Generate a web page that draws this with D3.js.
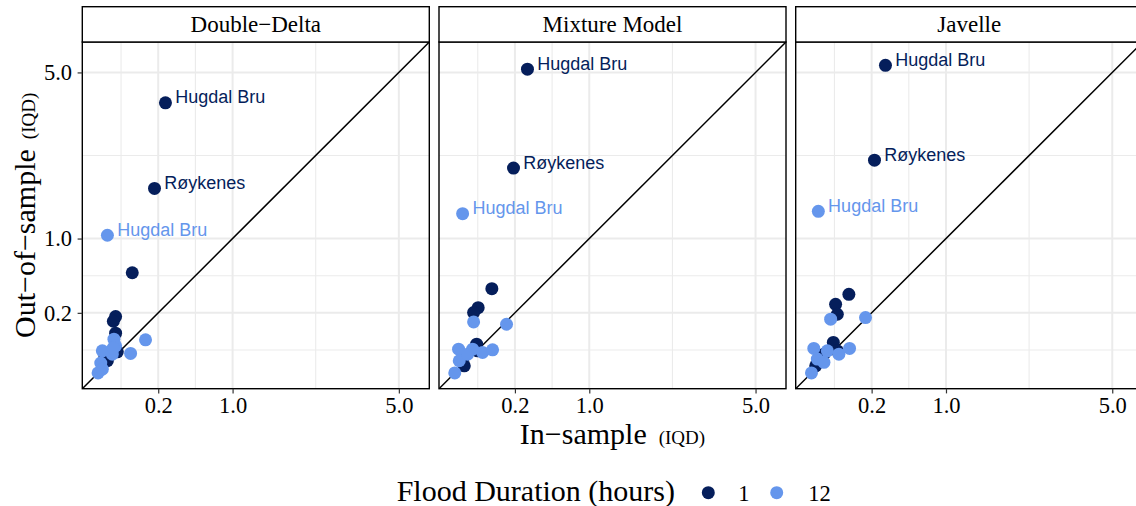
<!DOCTYPE html>
<html>
<head>
<meta charset="utf-8">
<script src="https://cdn.jsdelivr.net/npm/d3@7"></script>
<style>
  html, body { margin: 0; padding: 0; background: #fff; }
  svg { display: block; }
</style>
</head>
<body>
<svg id="chart" width="1136" height="506"></svg>
<script>
// Facets and legend categories
const methods = ["Double−Delta", "Mixture Model", "Javelle"];
const durations = ["1", "12"];
const durationColors = ["#051E5B", "#6596EC"];
const tickValues = [0.2, 1.0, 5.0];
const tickLabels = ["0.2", "1.0", "5.0"];
const axisLimits = [0, 5.5];

// Double−Delta, 1 hour
const ddIn1  = [0.251, 0.176, 0.0646, 0.017, 0.0129, 0.017, 0.0024, 0.0205, 0.0048];
const ddOut1 = [4.04, 1.885, 0.556, 0.176, 0.148, 0.0875, 0.0117, 0.0247, 0.0082];
const ddLab1 = ["Hugdal Bru", "Røykenes", "", "", "", "", "", "", ""];
// Double−Delta, 12 hours
const ddIn12  = [0.0048, 0.1245, 0.0584, 0.001, 0.0139, 0.017, 0.0004, 0.0, 0.001, 0.0112, 0.0125];
const ddOut12 = [1.05, 0.0606, 0.0211, 0.0271, 0.0632, 0.0407, 0.0054, 0.0, 0.0008, 0.0196, 0.0345];
const ddLab12 = ["Hugdal Bru", "", "", "", "", "", "", "", "", "", ""];

// Mixture Model, 1 hour
const mmIn1  = [0.292, 0.1906, 0.076, 0.0303, 0.0196, 0.0264, 0.005, 0.005, 0.0288];
const mmOut1 = [5.11, 2.323, 0.393, 0.236, 0.2018, 0.0459, 0.0163, 0.0028, 0.0271];
const mmLab1 = ["Hugdal Bru", "Røykenes", "", "", "", "", "", "", ""];
// Mixture Model, 12 hours
const mmIn12  = [0.0034, 0.0196, 0.148, 0.0008, 0.0176, 0.0428, 0.0789, 0.0011, 0.0, 0.0091];
const mmOut12 = [1.405, 0.144, 0.1314, 0.0314, 0.0314, 0.0233, 0.0296, 0.0082, 0.0, 0.0196];
const mmLab12 = ["Hugdal Bru", "", "", "", "", "", "", "", "", ""];

// Javelle, 1 hour
const jvIn1  = [0.3025, 0.2195, 0.0773, 0.0322, 0.0369, 0.0264, 0.0086, 0.001, 0.0369];
const jvOut1 = [5.24, 2.507, 0.342, 0.261, 0.1906, 0.0515, 0.0196, 0.0028, 0.0271];
const jvLab1 = ["Hugdal Bru", "Røykenes", "", "", "", "", "", "", ""];
// Javelle, 12 hours
const jvIn12  = [0.0026, 0.0203, 0.1614, 0.0003, 0.0139, 0.0416, 0.0802, 0.0019, 0.0, 0.0086];
const jvOut12 = [1.446, 0.16, 0.170, 0.0333, 0.0271, 0.0196, 0.0333, 0.0106, 0.0, 0.0062];
const jvLab12 = ["Hugdal Bru", "", "", "", "", "", "", "", "", ""];

const panelSeries = [
  [[ddIn1, ddOut1, ddLab1], [ddIn12, ddOut12, ddLab12]],
  [[mmIn1, mmOut1, mmLab1], [mmIn12, mmOut12, mmLab12]],
  [[jvIn1, jvOut1, jvLab1], [jvIn12, jvOut12, jvLab12]]
];

// Layout
const serif = "'Liberation Serif', 'Times New Roman', serif";
const sans = "'Liberation Sans', Arial, sans-serif";
const panelX0 = 82.3, panelStep = 356.7, panelW = 347;
const panelTop = 42, panelH = 346.7, stripTop = 6.7;
const gridColor = "#EBEBEB";

const svg = d3.select("#chart");
svg.append("rect").attr("width", 1136).attr("height", 506).attr("fill", "#fff");

// sqrt scale with 5% expansion in transformed space
const sLo = Math.sqrt(axisLimits[0]), sHi = Math.sqrt(axisLimits[1]);
const pad = (sHi - sLo) * 0.05;
const signedSq = v => (v < 0 ? -v * v : v * v);
const domain = [signedSq(sLo - pad), signedSq(sHi + pad)];
const x = d3.scaleSqrt().domain(domain).range([0, panelW]);
const y = d3.scaleSqrt().domain(domain).range([panelH, 0]);

// minor breaks: midpoints between majors in sqrt space
const sMaj = tickValues.map(Math.sqrt);
const minorVals = [];
minorVals.push(sMaj[0] - (sMaj[1] - sMaj[0]) / 2);
for (let i = 0; i < sMaj.length - 1; i++) minorVals.push((sMaj[i] + sMaj[i + 1]) / 2);
const minorBreaks = minorVals.map(v => v * v);

methods.forEach((m, pi) => {
  const g = svg.append("g").attr("transform", `translate(${panelX0 + pi * panelStep},${panelTop})`);

  // grid
  g.selectAll(".mnx").data(minorBreaks).join("line")
    .attr("x1", d => x(d)).attr("x2", d => x(d)).attr("y1", 0).attr("y2", panelH)
    .attr("stroke", gridColor).attr("stroke-width", 1.1);
  g.selectAll(".mny").data(minorBreaks).join("line")
    .attr("y1", d => y(d)).attr("y2", d => y(d)).attr("x1", 0).attr("x2", panelW)
    .attr("stroke", gridColor).attr("stroke-width", 1.1);
  g.selectAll(".mjx").data(tickValues).join("line")
    .attr("x1", d => x(d)).attr("x2", d => x(d)).attr("y1", 0).attr("y2", panelH)
    .attr("stroke", gridColor).attr("stroke-width", 2);
  g.selectAll(".mjy").data(tickValues).join("line")
    .attr("y1", d => y(d)).attr("y2", d => y(d)).attr("x1", 0).attr("x2", panelW)
    .attr("stroke", gridColor).attr("stroke-width", 2);

  // identity line
  const clipId = "clip" + pi;
  g.append("clipPath").attr("id", clipId).append("rect")
    .attr("width", panelW).attr("height", panelH);
  g.append("line")
    .attr("clip-path", `url(#${clipId})`)
    .attr("x1", x(domain[0])).attr("y1", y(domain[0]))
    .attr("x2", x(domain[1])).attr("y2", y(domain[1]))
    .attr("stroke", "#000").attr("stroke-width", 1.5);

  // points
  panelSeries[pi].forEach((ser, si) => {
    const [xs, ys] = ser;
    const pts = xs.map((v, i) => ({ x: v, y: ys[i] }));
    g.append("g").selectAll("circle").data(pts).join("circle")
      .attr("cx", d => x(d.x)).attr("cy", d => y(d.y)).attr("r", 6.5)
      .attr("fill", durationColors[si]);
  });
  // labels
  panelSeries[pi].forEach((ser, si) => {
    const [xs, ys, labs] = ser;
    const pts = xs.map((v, i) => ({ x: v, y: ys[i], lab: labs[i] })).filter(d => d.lab);
    g.append("g").selectAll("text").data(pts).join("text")
      .attr("x", d => x(d.x) + 9.8).attr("y", d => y(d.y) + 0.5)
      .attr("font-family", sans).attr("font-size", 18)
      .attr("fill", durationColors[si]).text(d => d.lab);
  });

  // panel border
  g.append("rect").attr("width", panelW).attr("height", panelH)
    .attr("fill", "none").attr("stroke", "#000").attr("stroke-width", 1.4);

  // strip
  const sH = panelTop - stripTop;
  g.append("rect").attr("x", 0).attr("y", -sH).attr("width", panelW).attr("height", sH)
    .attr("fill", "#fff").attr("stroke", "#000").attr("stroke-width", 1.4);
  g.append("text").attr("x", panelW / 2).attr("y", -sH / 2 + 8)
    .attr("text-anchor", "middle").attr("font-family", serif).attr("font-size", 23)
    .attr("fill", "#000").text(m);

  // x axis
  const xa = g.append("g").attr("transform", `translate(0,${panelH})`)
    .call(d3.axisBottom(x).tickValues(tickValues).tickFormat((d, i) => tickLabels[i])
      .tickSize(4.7).tickPadding(4));
  xa.select(".domain").remove();
  xa.selectAll(".tick line").attr("stroke", "#333").attr("stroke-width", 1.2);
  xa.selectAll(".tick text").attr("font-family", serif).attr("font-size", 22.5).attr("fill", "#000")
    .attr("dy", "0.71em");

  // y axis on first facet only
  if (pi === 0) {
    const ya = g.append("g").call(d3.axisLeft(y).tickValues(tickValues)
      .tickFormat((d, i) => tickLabels[i]).tickSize(4.7).tickPadding(5.5));
    ya.select(".domain").remove();
    ya.selectAll(".tick line").attr("stroke", "#333").attr("stroke-width", 1.2);
    ya.selectAll(".tick text").attr("font-family", serif).attr("font-size", 22.5).attr("fill", "#000")
      .attr("dy", "0.33em");
  }
});

// axis titles
const plotCenterX = panelX0 + (2 * panelStep + panelW) / 2;
const xt = svg.append("text").attr("x", plotCenterX).attr("y", 443.5)
  .attr("text-anchor", "middle").attr("font-family", serif).attr("fill", "#000");
xt.append("tspan").attr("font-size", 30).text("In−sample");
xt.append("tspan").attr("font-size", 19).attr("dx", 12).text("(IQD)");

const yt = svg.append("text")
  .attr("transform", `translate(34.5,${panelTop + panelH / 2}) rotate(-90)`)
  .attr("text-anchor", "middle").attr("font-family", serif).attr("fill", "#000");
yt.append("tspan").attr("font-size", 30).text("Out−of−sample");
yt.append("tspan").attr("font-size", 19).attr("dx", 10).text("(IQD)");

// legend
const lg = svg.append("g");
lg.append("text").attr("x", 396.7).attr("y", 501).attr("font-family", serif)
  .attr("font-size", 30).attr("fill", "#000").text("Flood Duration (hours)");
const keyX = [708.3, 776.7];
const keyLabX = [738.3, 808.3];
durations.forEach((d, i) => {
  lg.append("circle").attr("cx", keyX[i]).attr("cy", 492.7).attr("r", 6.5).attr("fill", durationColors[i]);
  lg.append("text").attr("x", keyLabX[i]).attr("y", 500.5).attr("font-family", serif)
    .attr("font-size", 22.5).attr("fill", "#000").text(d);
});
</script>
</body>
</html>
